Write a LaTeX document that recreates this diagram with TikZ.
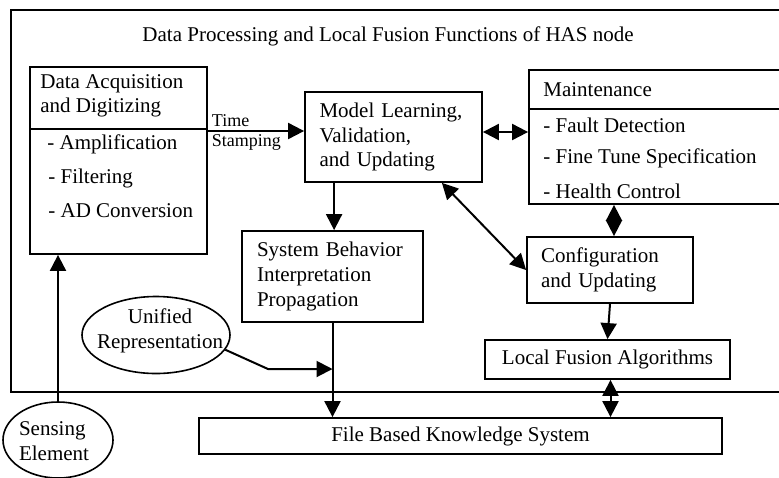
\documentclass[tikz,border=0pt]{standalone}
\usepackage{fontspec}
\setmainfont{Liberation Serif}
\usetikzlibrary{arrows.meta, shapes.geometric}

\begin{document}
\begin{tikzpicture}[x=0.5pt, y=-0.5pt,
		every node/.style={font=\fontsize{10.5}{12.3}\selectfont},
		box/.style={draw, line width=0.9pt, rectangle, inner sep=0pt},
		oval/.style={draw, line width=0.8pt, ellipse, inner sep=0pt},
		txt/.style={anchor=west, inner sep=0pt},
		small/.style={font=\fontsize{9}{10}\selectfont, inner sep=1.5pt},
		arr/.style={line width=1pt, -{Triangle[length=8pt, width=8pt]}},
		darr/.style={line width=1pt, {Triangle[length=8pt, width=8pt]}-{Triangle[length=8pt, width=8pt]}}]
		
		\useasboundingbox (0,0) rectangle (779,477);
		
		\draw[line width=0.9pt] (800,10) -- (11,10) -- (11,392) -- (800,392);
		\node (title) at (388,36) {Data Processing and Local Fusion Functions of HAS node};
		
		\node[box, minimum width=88.5pt, minimum height=93.5pt] (daq) at (118.5,160.5) {};
		\draw[line width=0.9pt] (daq.west |- 0,129) -- (daq.east |- 0,129);
		\node[txt, align=left] (daqhead) at (40,96) {Data Acquisition\\and Digitizing};
		\node[txt] (amp) at (47,144) {- Amplification};
		\node[txt] (filt) at (48,178) {- Filtering};
		\node[txt] (adc) at (48,211) {- AD Conversion};
		
		\node[box, minimum width=88.5pt, minimum height=45pt, text width=74pt,
			inner xsep=7pt, align=left] (model) at (393.5,137)
			{Model Learning,\\Validation,\\and Updating};
		
		\node[box, minimum width=130.5pt, minimum height=67pt] (maint) at (659.5,137) {};
		\draw[line width=0.9pt] (maint.west |- 0,109) -- (maint.east |- 0,109);
		\node[txt] (mhead) at (543,90) {Maintenance};
		\node[txt] (fault) at (543,125) {- Fault Detection};
		\node[txt] (tune) at (543,158) {- Fine Tune Specification};
		\node[txt] (health) at (543,191) {- Health Control};
		
		\node[box, minimum width=90.5pt, minimum height=45.5pt, text width=75.5pt,
			inner xsep=7.5pt, align=left] (sys) at (332.5,276.5)
			{System Behavior\\Interpretation\\Propagation};
		
		\node[box, minimum width=83pt, minimum height=33pt, text width=69pt,
			inner xsep=7pt, align=left] (conf) at (610,270)
			{Configuration\\and Updating};
		
		\node[box, minimum width=122.5pt, minimum height=19.5pt] (lfa) at (607.5,359.5)
			{Local Fusion Algorithms};
		
		\node[box, minimum width=261.5pt, minimum height=18pt] (kb) at (460.5,436)
			{File Based Knowledge System};
		
		\node[oval, minimum width=74pt, minimum height=38.5pt] (unified) at (156,335) {};
		\node[align=center, inner sep=0pt] (unitext) at (160,331) {Unified\\Representation};
		
		\node[oval, minimum width=55pt, minimum height=38pt] (sensing) at (58,440) {};
		\node[align=left, inner sep=0pt] (senstext) at (54,441) {Sensing\\Element};
		
		\coordinate (ts) at ([yshift=3pt]model.west);
		\draw[arr] (daq.east |- ts) -- (ts)
			node[pos=0, small, anchor=south west] {Time}
			node[pos=0, small, anchor=north west] {Stamping};
		
		\coordinate (mm) at ([yshift=2.5pt]model.east);
		\draw[darr] (mm) -- (mm -| maint.west);
		
		\coordinate (ms) at ([xshift=15pt]model.south west);
		\draw[arr] (ms) -- (ms |- sys.north);
		
		\draw[darr] ([xshift=-20.5pt]model.south east) -- (conf.west);
		
		\coordinate (cm) at ([xshift=2pt]conf.north);
		\draw[darr] (cm |- maint.south) -- (cm);
		
		\draw[arr] (conf.south) -- (lfa.north);
		
		\coordinate (lk) at ([xshift=1.5pt]lfa.south);
		\draw[darr] (lk) -- (lk |- kb.north);
		
		\draw[arr] (sys.south) -- (sys.south |- kb.north);
		
		\coordinate (ubend) at (268,369);
		\draw[arr] (unified.-12) -- (ubend) -- (ubend -| sys.south);
		
		\draw[arr] (sensing.north) -- (sensing.north |- daq.south);
	\end{tikzpicture}
\end{document}
